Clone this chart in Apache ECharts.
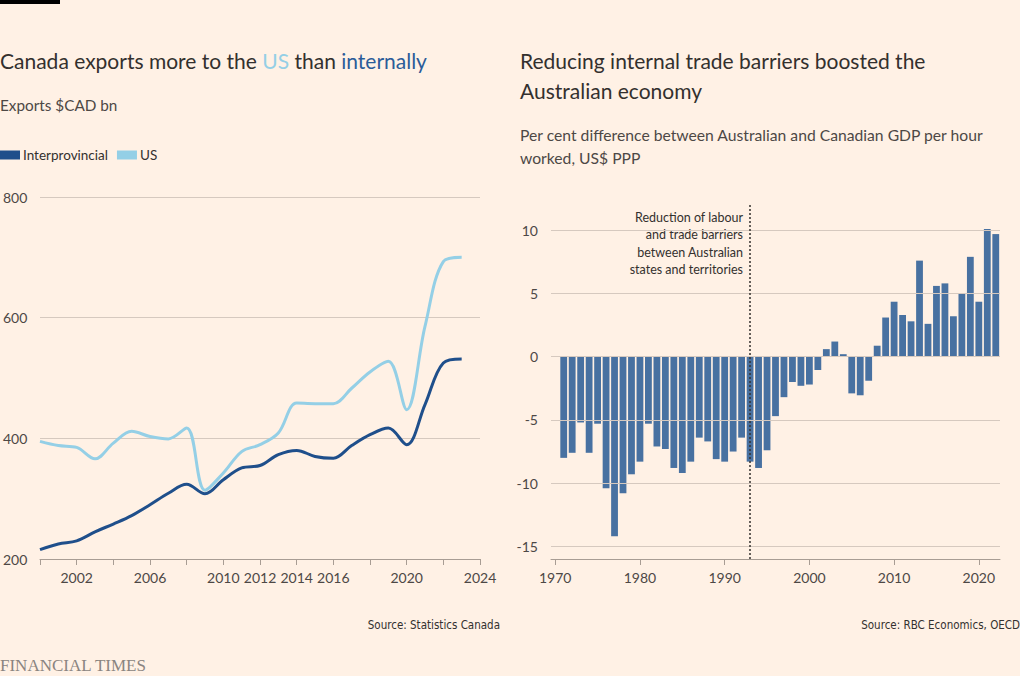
<!DOCTYPE html>
<html>
<head>
<meta charset="utf-8">
<script src="https://cdn.jsdelivr.net/npm/echarts@6.0.0/dist/echarts.min.js"></script>
<style>
html,body{margin:0;padding:0;background:#FFF1E5;}
#chart{width:1020px;height:676px;}
</style>
</head>
<body>
<div id="chart"></div>
<script>
// ---- Left chart data: Canada exports, $CAD bn ----
var exportYears = [2000,2001,2002,2003,2004,2005,2006,2007,2008,2009,2010,2011,2012,2013,2014,2015,2016,2017,2018,2019,2020,2021,2022,2023];
var interprovincial = [215.5,225,230,245,258,272,290,309,324,308,331.5,351,355,373,380,370,367,388,406,417,389.5,456,525,531.5];
var usExports = [395,388,385,366,392,411.6,403,399,417,314,342.5,378,389.5,409,458.6,457.5,457.5,483,510,527.6,447.5,585.6,693,700];
var leftXLabels = [2002,2006,2010,2012,2014,2016,2020,2024];
var leftYTicks = [200,400,600,800];

// ---- Right chart data: % difference Australia vs Canada GDP per hour ----
var gdpYears = [1971,1972,1973,1974,1975,1976,1977,1978,1979,1980,
                1981,1982,1983,1984,1985,1986,1987,1988,1989,1990,
                1991,1992,1993,1994,1995,1996,1997,1998,1999,2000,
                2001,2002,2003,2004,2005,2006,2007,2008,2009,2010,
                2011,2012,2013,2014,2015,2016,2017,2018,2019,2020,
                2021,2022];
var gdpDiff = [-8.0,-7.6,-5.2,-7.6,-5.3,-10.4,-14.2,-10.8,-9.3,-8.3,
               -5.3,-7.1,-7.3,-8.8,-9.2,-8.3,-6.4,-6.7,-8.1,-8.3,
               -7.5,-6.4,-8.3,-8.8,-7.4,-4.7,-3.2,-2.0,-2.3,-2.2,
               -1.05,0.6,1.2,0.2,-2.9,-3.05,-1.9,0.87,3.1,4.35,
               3.3,2.8,7.6,2.6,5.6,5.8,3.2,5.0,7.9,4.35,
               10.1,9.7];
var rightXLabels = [1970,1980,1990,2000,2010,2020];
var rightYTicks = [10,5,0,-5,-10,-15];
var reformYear = 1993;
var annotationLines = ['Reduction of labour', 'and trade barriers', 'between Australian', 'states and territories'];

var FONT = 'Lato, "Noto Sans", sans-serif';
var DARK = '#1f4f8b', LIGHT = '#94cfe6', BAR = '#4871a1';
var TXT = '#33302e', SUB = '#4d4845', GRID = '#d6c9bf', AXIS = '#a89d94';

var chart = echarts.init(document.getElementById('chart'), null, {renderer: 'svg'});

var annotationGraphics = annotationLines.map(function (t, i) {
  return {
    type: 'text', x: 743, y: 217 + i * 17.5,
    style: {text: t, align: 'right', verticalAlign: 'middle', fill: TXT, fontFamily: FONT, fontSize: 12.5}
  };
});

var option = {
  backgroundColor: '#FFF1E5',
  animation: false,
  textStyle: {fontFamily: FONT},
  title: [
    {
      left: 0, top: 45,
      text: '{a|Canada exports more to the }{b|US}{a| than }{c|internally}',
      textStyle: {
        fontWeight: 'normal',
        rich: {
          a: {fontFamily: FONT, fontSize: 21, fontWeight: 'normal', color: TXT, lineHeight: 30},
          b: {fontFamily: FONT, fontSize: 21, fontWeight: 'normal', color: LIGHT, lineHeight: 30},
          c: {fontFamily: FONT, fontSize: 21, fontWeight: 'normal', color: '#2b5c99', lineHeight: 30}
        }
      },
      padding: 0
    },
    {
      left: 0, top: 93.5, padding: 0,
      text: 'Exports $CAD bn',
      textStyle: {fontFamily: FONT, fontSize: 15.3, fontWeight: 'normal', color: SUB, lineHeight: 23}
    },
    {
      left: 520, top: 45, padding: 0,
      text: 'Reducing internal trade barriers boosted the\nAustralian economy',
      textStyle: {fontFamily: FONT, fontSize: 21, fontWeight: 'normal', color: TXT, lineHeight: 30}
    },
    {
      left: 520, top: 123.5, padding: 0,
      text: 'Per cent difference between Australian and Canadian GDP per hour\nworked, US$ PPP',
      textStyle: {fontFamily: FONT, fontSize: 15.7, fontWeight: 'normal', color: SUB, lineHeight: 23}
    }
  ],
  legend: {
    left: 0, top: 148, padding: 0,
    icon: 'rect', itemWidth: 20, itemHeight: 9, itemGap: 9,
    data: ['Interprovincial', 'US'],
    textStyle: {fontFamily: FONT, fontSize: 13.5, color: TXT, padding: [0, 0, 0, -2]}
  },
  grid: [
    {left: 37, top: 197, width: 443, height: 362},
    {left: 551, top: 205, width: 449, height: 354}
  ],
  xAxis: [
    {
      gridIndex: 0, type: 'value', min: 2000, max: 2024, interval: 2,
      axisLine: {show: true, onZero: false, lineStyle: {color: AXIS, width: 1}},
      axisTick: {show: true, length: 6, lineStyle: {color: AXIS}},
      splitLine: {show: false},
      axisLabel: {
        color: SUB, fontFamily: FONT, fontSize: 14, margin: 11,
        formatter: function (v) { return leftXLabels.indexOf(v) >= 0 ? String(v) : ''; }
      }
    },
    {
      gridIndex: 1, type: 'value', min: 1969.5, max: 2022.5,
      axisLine: {show: true, onZero: false, lineStyle: {color: AXIS, width: 1}},
      axisTick: {show: true, length: 6, lineStyle: {color: AXIS}, customValues: rightXLabels},
      splitLine: {show: false},
      axisLabel: {
        color: SUB, fontFamily: FONT, fontSize: 14, margin: 11,
        customValues: rightXLabels,
        formatter: function (v) { return String(v); }
      }
    }
  ],
  yAxis: [
    {
      gridIndex: 0, type: 'value', min: 200, max: 800, interval: 200,
      axisLine: {show: false}, axisTick: {show: false},
      splitLine: {show: true, lineStyle: {color: GRID, width: 1}},
      axisLabel: {color: SUB, fontFamily: FONT, fontSize: 14, align: 'left', margin: 37}
    },
    {
      gridIndex: 1, type: 'value', min: -16, max: 12,
      axisLine: {show: false}, axisTick: {show: false},
      splitLine: {show: false},
      axisLabel: {
        color: SUB, fontFamily: FONT, fontSize: 14, align: 'right', margin: 13,
        customValues: rightYTicks,
        formatter: function (v) { return String(v); }
      }
    }
  ],
  series: [
    {
      name: 'Interprovincial', type: 'line', xAxisIndex: 0, yAxisIndex: 0,
      data: exportYears.map(function (y, i) { return [y, interprovincial[i]]; }),
      showSymbol: false, smooth: 0.35,
      lineStyle: {color: DARK, width: 3}, itemStyle: {color: DARK}, z: 3
    },
    {
      name: 'US', type: 'line', xAxisIndex: 0, yAxisIndex: 0,
      data: exportYears.map(function (y, i) { return [y, usExports[i]]; }),
      showSymbol: false, smooth: 0.35,
      lineStyle: {color: LIGHT, width: 3}, itemStyle: {color: LIGHT}, z: 4
    },
    {
      name: 'gridlines', type: 'line', xAxisIndex: 1, yAxisIndex: 1, data: [], z: 1,
      markLine: {
        silent: true, symbol: 'none', animation: false,
        label: {show: false},
        lineStyle: {color: GRID, type: 'solid', width: 1},
        data: rightYTicks.map(function (v) { return {yAxis: v}; })
      }
    },
    {
      name: 'GDP difference', type: 'bar', xAxisIndex: 1, yAxisIndex: 1, z: 2,
      data: gdpYears.map(function (y, i) { return [y, gdpDiff[i]]; }),
      barWidth: 6.8,
      itemStyle: {color: BAR},
      markLine: {
        silent: true, symbol: 'none', animation: false,
        label: {show: false},
        lineStyle: {color: '#33302e', type: [2, 2], width: 1.5},
        data: [{xAxis: reformYear}]
      }
    }
  ],
  graphic: [
    {type: 'rect', left: 0, top: 0, shape: {width: 60, height: 4}, style: {fill: '#000'}}
  ].concat(annotationGraphics).concat([
    {
      type: 'text', right: 520, top: 619,
      style: {text: 'Source: Statistics Canada', fill: TXT, fontFamily: '"Liberation Sans Narrow", "DejaVu Sans Condensed", sans-serif', fontSize: 11.5}
    },
    {
      type: 'text', right: 0, top: 619,
      style: {text: 'Source: RBC Economics, OECD', fill: TXT, fontFamily: '"Liberation Sans Narrow", "DejaVu Sans Condensed", sans-serif', fontSize: 11.5}
    },
    {
      type: 'text', left: 0, top: 657,
      style: {text: 'FINANCIAL TIMES', fill: '#8a8480', fontFamily: '"Liberation Serif", "DejaVu Serif", serif', fontSize: 17}
    }
  ])
};
chart.setOption(option);
</script>
</body>
</html>
